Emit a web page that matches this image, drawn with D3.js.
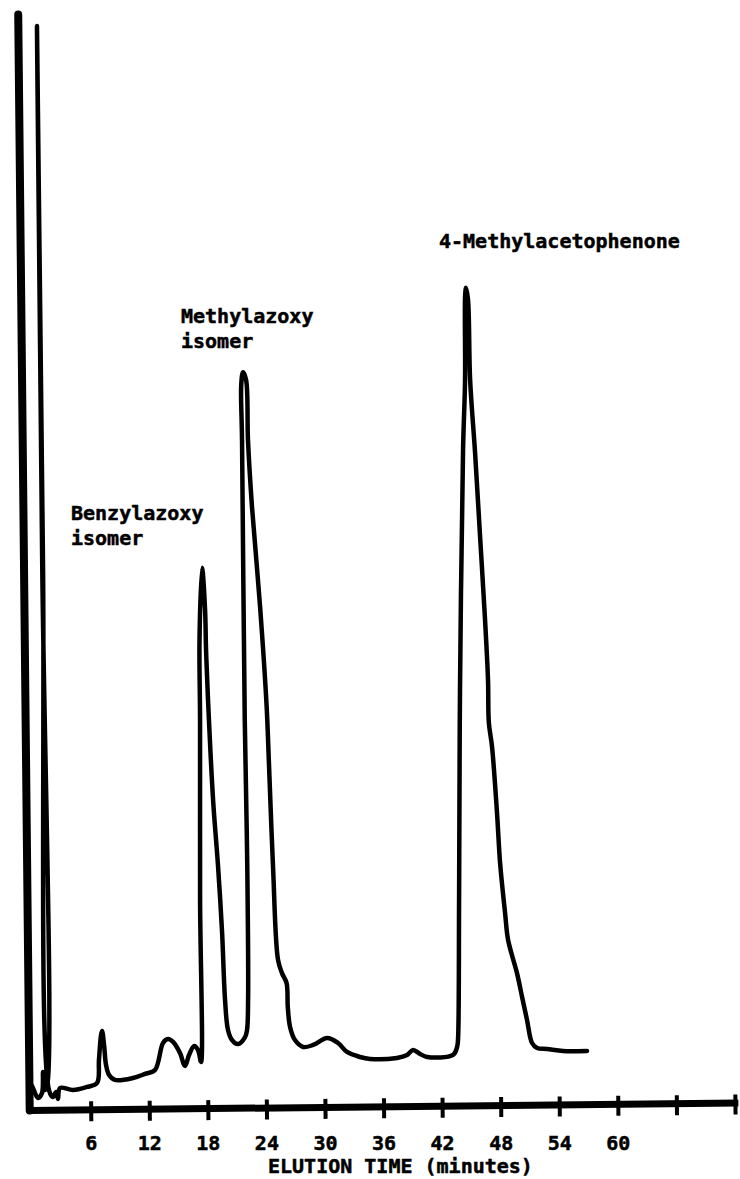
<!DOCTYPE html>
<html>
<head>
<meta charset="utf-8">
<script src="https://cdn.jsdelivr.net/npm/d3@7"></script>
<style>
  html, body { margin: 0; padding: 0; background: #fff; }
  svg { display: block; }
  text { font-family: 'DejaVu Sans Mono', monospace; font-weight: bold; fill: #000; stroke: #000; stroke-width: 0.5px; }
</style>
</head>
<body>
<div id="chart"></div>
<script>
// detector trace: elution time (minutes) vs. response (relative units, full scale 100)
const elutionTime = [
  0.0, 0.11, 0.61, 1.03, 1.16, 1.34, 1.58, 1.62, 1.66, 1.7, 1.75,
  2.15, 2.47, 2.66, 2.88, 4.21, 5.65, 6.68, 6.9, 7.14, 7.25,
  7.44, 7.62, 7.92, 8.52, 10.37, 11.6, 12.63, 13.48, 13.99, 14.51,
  15.21, 15.71, 16.13, 16.66, 17.06, 17.35, 17.43, 17.62, 17.65, 17.99,
  18.25, 18.31, 18.46, 18.87, 19.31, 19.65, 19.88, 20.15, 20.55, 21.16,
  21.89, 22.1, 22.24, 22.3, 22.2, 22.22, 22.2, 22.39, 22.7, 22.83,
  23.17, 23.89, 24.45, 24.64, 24.94, 25.35, 25.74, 26.2, 26.3, 26.51,
  27.0, 27.82, 28.85, 30.29, 31.41, 32.32, 33.65, 34.67, 37.43, 38.47,
  39.08, 39.8, 40.51, 43.18, 43.6, 43.7, 43.96, 44.28, 44.85, 45.13,
  45.23, 45.33, 45.52, 45.65, 46.08, 46.5, 46.92, 47.16, 47.2, 47.5,
  47.94, 48.2, 48.66, 48.94, 49.82, 50.31, 50.79, 51.28, 51.79, 52.81,
  54.45, 56.9
];
const response = [
  2.2, 2.0, 1.09, 1.54, 3.45, 1.8, 2.3, 50.0, 98.9, 50.0, 1.8,
  1.16, 1.62, 0.98, 1.98, 1.78, 2.05, 2.4, 4.5, 6.78, 7.14,
  5.86, 4.03, 3.12, 2.66, 2.82, 3.18, 3.53, 5.99, 6.34, 6.07,
  5.05, 3.87, 4.86, 5.68, 5.31, 4.22, 19.0, 35.4, 42.7, 49.3,
  45.5, 41.8, 37.2, 28.1, 22.0, 15.97, 9.85, 7.11, 6.19, 5.82,
  6.45, 7.09, 9.83, 22.0, 35.4, 60.9, 66.0, 67.1, 66.4, 60.9,
  54.8, 45.7, 36.7, 31.1, 21.9, 13.45, 12.25, 11.34, 9.15, 7.33,
  6.13, 5.49, 5.66, 6.29, 5.82, 4.99, 4.52, 4.33, 4.4, 4.66,
  5.11, 4.74, 4.46, 4.62, 5.34, 6.0, 18.75, 37.9, 59.8, 66.2,
  73.9, 74.6, 73.5, 66.2, 59.5, 51.9, 44.3, 38.8, 34.9, 32.7,
  26.65, 22.1, 17.5, 15.05, 12.0, 9.84, 7.74, 5.63, 5.17, 5.07,
  4.87, 4.86
];

const tickValues = [6, 12, 18, 24, 30, 36, 42, 48, 54, 60, 66, 72];
const tickLabels = [6, 12, 18, 24, 30, 36, 42, 48, 54, 60];
const axisTitle = 'ELUTION TIME (minutes)';

const peakNames = [
  ['Benzylazoxy', 'isomer'],
  ['Methylazoxy', 'isomer'],
  ['4-Methylacetophenone']
];
// where each peak name is typed on the page
const peakNamePos = [
  {x: 71, y: 520},
  {x: 181, y: 323},
  {x: 439, y: 248}
];

const width = 740;
const height = 1179;
const origin = {x: 29, y: 1110};
// the recorder sheet sits slightly askew on the page
const tilt = -0.6;

const x = d3.scaleLinear().domain([-0.3, 72.3]).range([29.2, 737.9]);
const y = d3.scaleLinear().domain([0, 100]).range([origin.y, 14]);

const svg = d3.select('#chart')
  .append('svg')
  .attr('width', width)
  .attr('height', height)
  .attr('viewBox', `0 0 ${width} ${height}`);

svg.append('rect').attr('width', width).attr('height', height).attr('fill', '#fff');

const plot = svg.append('g')
  .attr('transform', `rotate(${tilt},${origin.x},${origin.y})`);

// time axis (ticks only, labels are typed separately)
const xAxis = plot.append('g')
  .attr('transform', `translate(0,${origin.y})`)
  .call(d3.axisBottom(x).tickValues(tickValues).tickSize(12).tickSizeOuter(0).tickFormat(''));
xAxis.select('.domain')
  .attr('stroke', '#000')
  .attr('stroke-width', 7);
xAxis.selectAll('.tick line')
  .attr('y1', -8)
  .attr('stroke', '#000')
  .attr('stroke-width', 4);

// response axis, no ticks
const yAxis = plot.append('g')
  .attr('transform', `translate(${x.range()[0]},0)`)
  .call(d3.axisLeft(y).tickValues([]).tickSizeOuter(0));
yAxis.select('.domain')
  .attr('stroke', '#000')
  .attr('stroke-width', 8)
  .attr('stroke-linecap', 'round');

// the trace
plot.append('path')
  .datum(d3.zip(elutionTime, response))
  .attr('fill', 'none')
  .attr('stroke', '#000')
  .attr('stroke-width', 4.5)
  .attr('stroke-linejoin', 'round')
  .attr('stroke-linecap', 'round')
  .attr('d', d3.line()
    .curve(d3.curveCatmullRom.alpha(0.5))
    .x(d => x(d[0]))
    .y(d => y(d[1]))
  );

// tick labels
const labels = svg.append('g')
  .attr('transform', `translate(0,${origin.y})`)
  .call(d3.axisBottom(x).tickValues(tickLabels).tickSize(0).tickFormat(d3.format('d')));
labels.attr('font-family', null).attr('font-size', 20);
labels.select('.domain').remove();
labels.selectAll('.tick text')
  .attr('y', 40)
  .attr('dy', null)
  .style('font-size', '20px');

svg.append('text')
  .attr('x', 268)
  .attr('y', 1173)
  .style('font-size', '20px')
  .text(axisTitle);

// peak names
peakNames.forEach((lines, i) => {
  const t = svg.append('text')
    .attr('x', peakNamePos[i].x)
    .attr('y', peakNamePos[i].y)
    .style('font-size', '20px');
  lines.forEach((line, j) => {
    t.append('tspan')
      .attr('x', peakNamePos[i].x)
      .attr('dy', j === 0 ? 0 : 25)
      .text(line);
  });
});
</script>
</body>
</html>
